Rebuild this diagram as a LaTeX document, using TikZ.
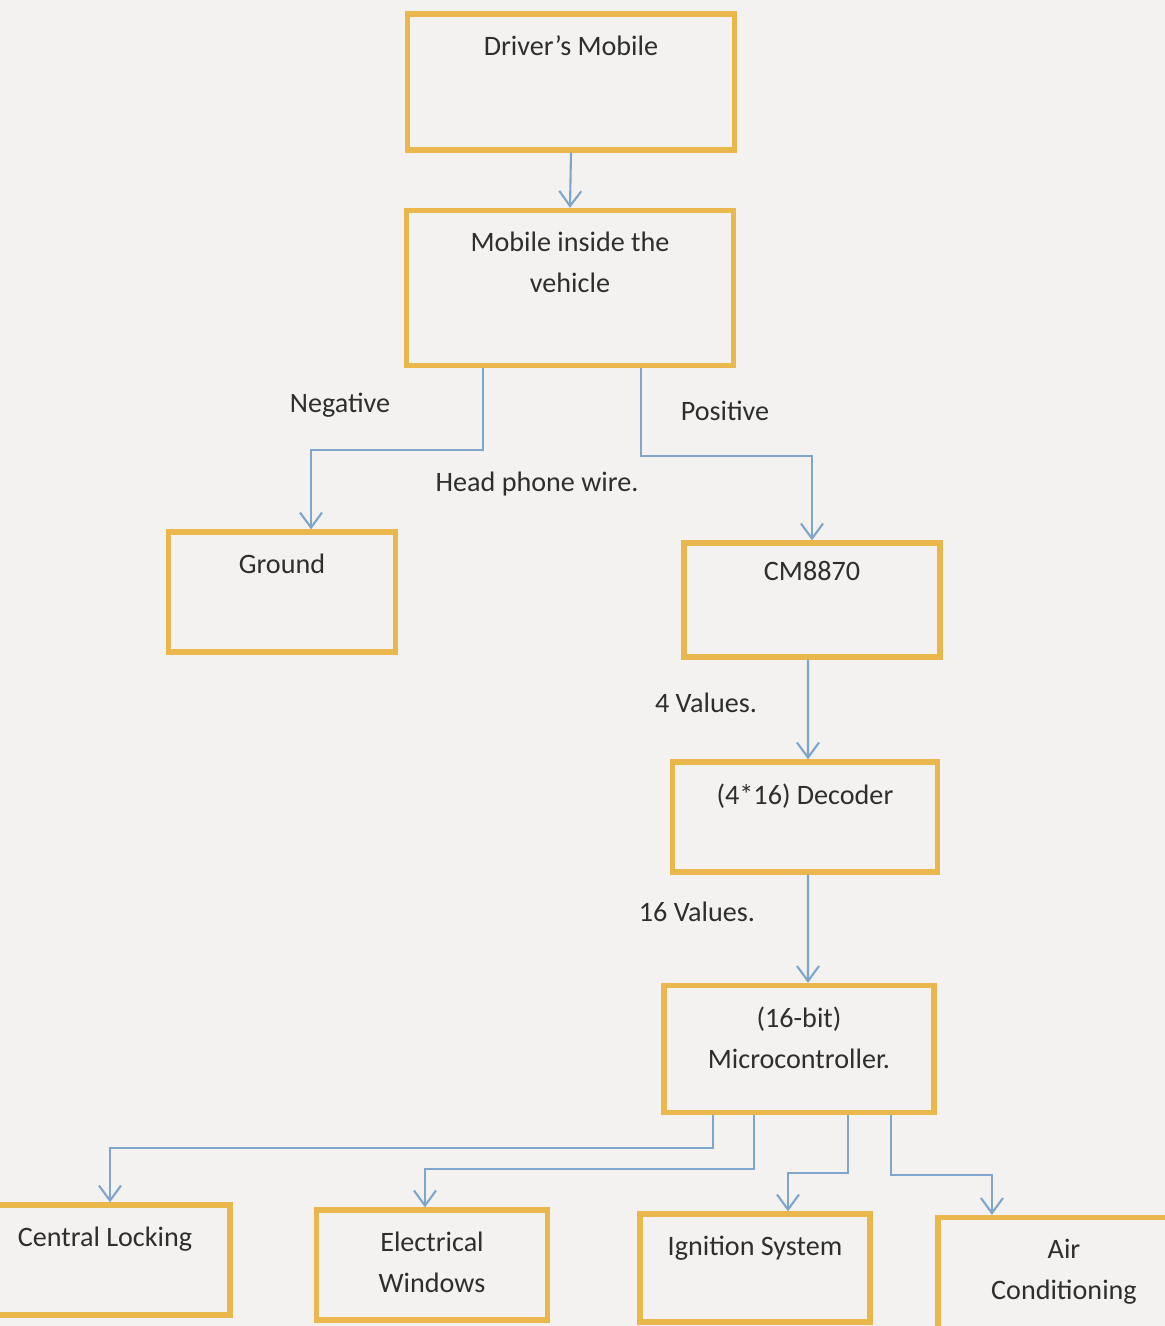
\documentclass[tikz,border=0pt]{standalone}
\usepackage{fontspec}
\setmainfont{Carlito}
\usepackage{tikz}
\usetikzlibrary{arrows.meta}
\usetikzlibrary{positioning}
\definecolor{boxgold}{HTML}{E9B74C}
\definecolor{wireblue}{HTML}{7FA5CB}
\definecolor{paper}{HTML}{F3F2F0}
\definecolor{ink}{HTML}{2E2E2E}
\tikzset{>={Straight Barb[length=1.5mm,width=2.2mm]}}
\tikzset{
    block/.style={draw=boxgold, line width=1.5pt, rectangle, inner sep=0pt},
    inside/.style={anchor=north, yshift=-0.12cm, align=center, text=ink, font=\fontsize{8}{11.6}\selectfont},
    wire/.style={->, draw=wireblue, line width=0.6pt},
    tag/.style={text=ink, font=\fontsize{8}{11.6}\selectfont},
}

\begin{document}
\begin{tikzpicture}[x=0.01cm, y=-0.01cm] % mobile controlled car system
	\useasboundingbox (0,0) rectangle (1165,1326);
	\clip (0,0) rectangle (1165,1326);
	\fill[paper] (0,0) rectangle (1165,1326);
	% blocks, text sits at the top of each box
	\node[block, minimum width=3.27cm, minimum height=1.36cm, label={[inside]north:Driver's Mobile}] (drv) at (571,82) {};
	\node[block, minimum width=3.27cm, minimum height=1.55cm, label={[inside]north:Mobile inside the\\vehicle}] (veh) at (570,288) {};
	\node[block, minimum width=2.27cm, minimum height=1.20cm, label={[inside]north:Ground}] (gnd) at (282,592) {};
	\node[block, minimum width=2.56cm, minimum height=1.14cm, label={[inside, yshift=0.03cm]north:CM8870}] (cm) at (812,600) {};
	\node[block, minimum width=2.65cm, minimum height=1.10cm, label={[inside]north:(4*16) Decoder}] (dec) at (805,817) {};
	\node[block, minimum width=2.70cm, minimum height=1.27cm, label={[inside]north:(16-bit)\\Microcontroller.}] (mcu) at (799,1049) {};
	\node[block, minimum width=2.50cm, minimum height=1.10cm, label={[inside]north:Central Locking}] (cl) at (105,1260) {};
	\node[block, minimum width=2.31cm, minimum height=1.10cm, label={[inside]north:Electrical\\Windows}] (ew) at (432,1265) {};
	\node[block, minimum width=2.30cm, minimum height=1.08cm, label={[inside]north:Ignition System}] (ign) at (755,1268) {};
	\node[block, minimum width=2.52cm, minimum height=1.15cm, label={[inside]north:Air\\Conditioning}] (ac) at (1064,1275) {};
	% wire labels
	\node[tag] (neg) at (340,405) {Negative};
	\node[tag] (pos) at (725,411) {Positive};
	\node[tag] (hp) at (537,484) {Head phone wire.};
	\node[tag] (four) at (706,703) {4 Values.};
	\node[tag] (sixteen) at (697,912) {16 Values.};
	% connections
	\draw[wire] (drv.south) -- (veh.north);
	\draw[wire] ([xshift=-0.87cm]veh.south) -- ++(0,82) -| ([xshift=0.29cm]gnd.north);
	\draw[wire] ([xshift=0.71cm]veh.south) -- ++(0,88) -| (cm.north);
	\draw[wire] ([xshift=-0.04cm]cm.south) -- ([xshift=0.03cm]dec.north);
	\draw[wire] ([xshift=0.03cm]dec.south) -- ([xshift=0.09cm]mcu.north);
	\draw[wire] ([xshift=-0.86cm]mcu.south) -- ++(0,33) -| ([xshift=0.05cm]cl.north);
	\draw[wire] ([xshift=-0.45cm]mcu.south) -- ++(0,54) -| ([xshift=-0.07cm]ew.north);
	\draw[wire] ([xshift=0.49cm]mcu.south) -- ++(0,58) -| ([xshift=0.33cm]ign.north);
	\draw[wire] ([xshift=0.92cm]mcu.south) -- ++(0,60) -| ([xshift=-0.72cm]ac.north);
\end{tikzpicture}
\end{document}
